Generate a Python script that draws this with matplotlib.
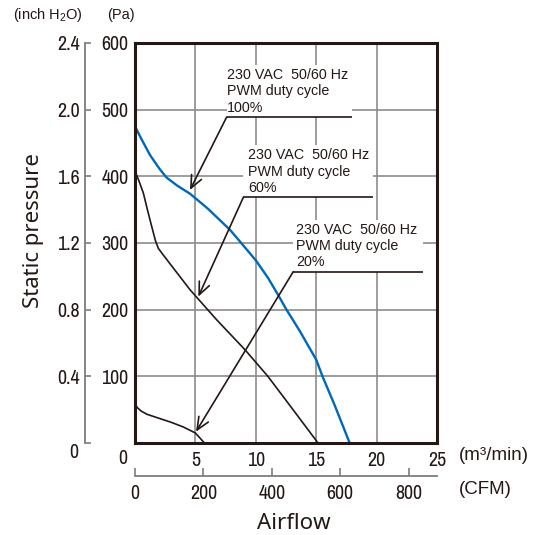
import matplotlib
matplotlib.use("Agg")
import matplotlib.pyplot as plt
from matplotlib import font_manager
from matplotlib.patches import Rectangle

# =========================
# data (airflow m3/min, static pressure Pa)
# =========================
flow_100 = [0, 0.5, 1.24, 2.0, 2.62, 3.5, 4.55, 6.0, 7.85, 8.7, 10.0, 11.0, 11.85, 12.54,
            13.64, 15.0, 15.52, 16.5, 17.77]
pres_100 = [475, 457, 432, 412, 398, 386, 374, 352, 320, 302, 274, 248, 222, 200,
            168, 125, 100, 58, 0]

flow_60 = [0, 0.35, 0.69, 1.0, 1.38, 1.7, 1.93, 2.34, 4.55, 6.75, 9.1, 11.0, 13.0, 15.15]
pres_60 = [408, 392, 375, 352, 325, 303, 292, 282, 230, 185, 140, 100, 52, 0]

flow_20 = [0, 0.2, 0.5, 1.0, 2.0, 3.0, 4.0, 5.0, 5.75]
pres_20 = [58, 53, 48, 43, 37, 31, 24, 15, 0]

pa_ticks = [100, 200, 300, 400, 500, 600]
inch_ticks = [0, 0.4, 0.8, 1.2, 1.6, 2.0, 2.4]
inch_labels = ["", "0.4", "0.8", "1.2", "1.6", "2.0", "2.4"]
m3_ticks = [5, 10, 15, 20, 25]
cfm_ticks = [0, 200, 400, 600, 800]

ann_lines = ["230 VAC  50/60 Hz", "PWM duty cycle"]
ann_pct = ["100%", "60%", "20%"]

# annotation layout (data coords): underline start/end, text x, arrow tip
ann_x0 = [7.59, 8.97, 13.1]
ann_x1 = [17.94, 19.73, 23.82]
ann_y0 = [489, 368.5, 257]
ann_tx = [7.62, 9.38, 13.33]
ann_tip = [(4.55, 379.5), (5.24, 219.5), (5.05, 17)]

INK = "#231815"
BLUE = "#0068b7"
GRID = "#8c8c8c"
AXG = "#7d7d7d"

# condensed face for numbers, if one is installed
COND, CSIZE = "Liberation Sans", 12.4
for f in font_manager.fontManager.ttflist:
    if "Narrow" in f.name or "Condensed" in f.name:
        COND, CSIZE = f.name, 14.4
        break
REG = "Liberation Sans"
HUM = "Noto Sans"

plt.rcParams["mathtext.default"] = "regular"

fig = plt.figure(figsize=(5.41, 5.35), dpi=100)
ax = fig.add_axes([135 / 541, 1 - 443 / 535, 302 / 541, 400 / 535])

ax.plot(flow_100, pres_100, color=BLUE, lw=1.7, zorder=2)
ax.plot(flow_60, pres_60, color=INK, lw=1.2, zorder=2)
ax.plot(flow_20, pres_20, color=INK, lw=1.2, zorder=2)

ax.set_xlim(0, 25)
ax.set_ylim(0, 600)
ax.set_xticks([0] + m3_ticks)
ax.set_xticklabels([""] + [str(t) for t in m3_ticks], fontfamily=COND, fontsize=CSIZE, color=INK)
ax.set_yticks(pa_ticks)
ax.set_yticklabels([str(t) for t in pa_ticks], fontfamily=COND, fontsize=CSIZE, color=INK)
ax.tick_params(axis="x", length=0, pad=5.6)
ax.tick_params(axis="y", length=0, pad=4.8)
ax.grid(True, color=GRID, lw=1.2)
ax.set_axisbelow(True)
for s in ax.spines.values():
    s.set_linewidth(2.2)
    s.set_color(INK)
    s.set_zorder(6)

ax.annotate("0", xy=(0, 0), xytext=(-12, -15), textcoords="offset pixels",
            ha="center", va="center", fontfamily=COND, fontsize=CSIZE, color=INK)

# inch H2O scale on the left
ax2 = ax.twinx()
ax2.set_ylim(0, 2.4)
for side in ["right", "top", "bottom"]:
    ax2.spines[side].set_visible(False)
ax2.spines["left"].set_visible(True)
ax2.spines["left"].set_position(("outward", 36))
ax2.spines["left"].set_color(AXG)
ax2.spines["left"].set_linewidth(1.3)
ax2.yaxis.tick_left()
ax2.set_yticks(inch_ticks)
ax2.set_yticklabels(inch_labels, fontfamily=COND, fontsize=CSIZE, color=INK)
ax2.tick_params(axis="y", direction="in", length=4.3, width=1.2, color=AXG, pad=3.6)
ax2.tick_params(axis="x", bottom=False, labelbottom=False)
ax.annotate("0", xy=(0, 0), xytext=(-61, -9), textcoords="offset pixels",
            ha="center", va="center", fontfamily=COND, fontsize=CSIZE, color=INK)

# CFM scale below
to_cfm = lambda x: x * 35.315
to_m3 = lambda c: c / 35.315
sec = ax.secondary_xaxis(-0.082, functions=(to_cfm, to_m3))
sec.set_xticks(cfm_ticks)
sec.set_xticklabels([str(t) for t in cfm_ticks], fontfamily=COND, fontsize=CSIZE, color=INK)
sec.tick_params(direction="in", length=5.8, width=1.2, color=AXG, pad=6.2)
sec.spines["bottom"].set_color(AXG)
sec.spines["bottom"].set_linewidth(1.3)

# annotations
for i in range(3):
    x0, x1, y0 = ann_x0[i], ann_x1[i], ann_y0[i]
    ax.add_patch(Rectangle((x0, y0), x1 - x0, 78, facecolor="white", edgecolor="none", zorder=3))
    ax.plot([x0, x1], [y0, y0], color=INK, lw=1.2, zorder=4, solid_capstyle="butt")
    lines = ann_lines + [ann_pct[i]]
    for k, txt in enumerate(lines):
        ax.annotate(txt, xy=(ann_tx[i], y0), xytext=(0, 37.9 - 16.2 * k),
                    textcoords="offset pixels", ha="left", va="baseline",
                    fontfamily=REG, fontsize=10.3, color=INK, zorder=5)
    ax.annotate("", xy=ann_tip[i], xytext=(x0, y0),
                arrowprops=dict(arrowstyle="->,head_length=0.5,head_width=0.22",
                                color=INK, lw=1.2, shrinkA=0, shrinkB=0,
                                mutation_scale=18), zorder=4)

# axis titles and units
fig.text(34 / 541, 1 - 230.5 / 535, "Static pressure", rotation=90, ha="center", va="center",
         fontfamily=HUM, fontsize=16, color=INK)
fig.text(294 / 541, 1 - 529.3 / 535, "Airflow", ha="center", va="baseline",
         fontfamily=HUM, fontsize=16, color=INK)
fig.text(459 / 541, 1 - 456 / 535, "(m³/min)", ha="left", va="center",
         fontfamily=REG, fontsize=13.5, color=INK)
fig.text(459 / 541, 1 - 489 / 535, "(CFM)", ha="left", va="center",
         fontfamily=REG, fontsize=13.5, color=INK)
fig.text(13 / 541, 1 - 15 / 535, "(inch H$_2$O)", ha="left", va="center",
         fontfamily=REG, fontsize=10.5, color=INK)
fig.text(107 / 541, 1 - 15 / 535, "(Pa)", ha="left", va="center",
         fontfamily=REG, fontsize=10.5, color=INK)

fig.savefig("out.png", dpi=100)
